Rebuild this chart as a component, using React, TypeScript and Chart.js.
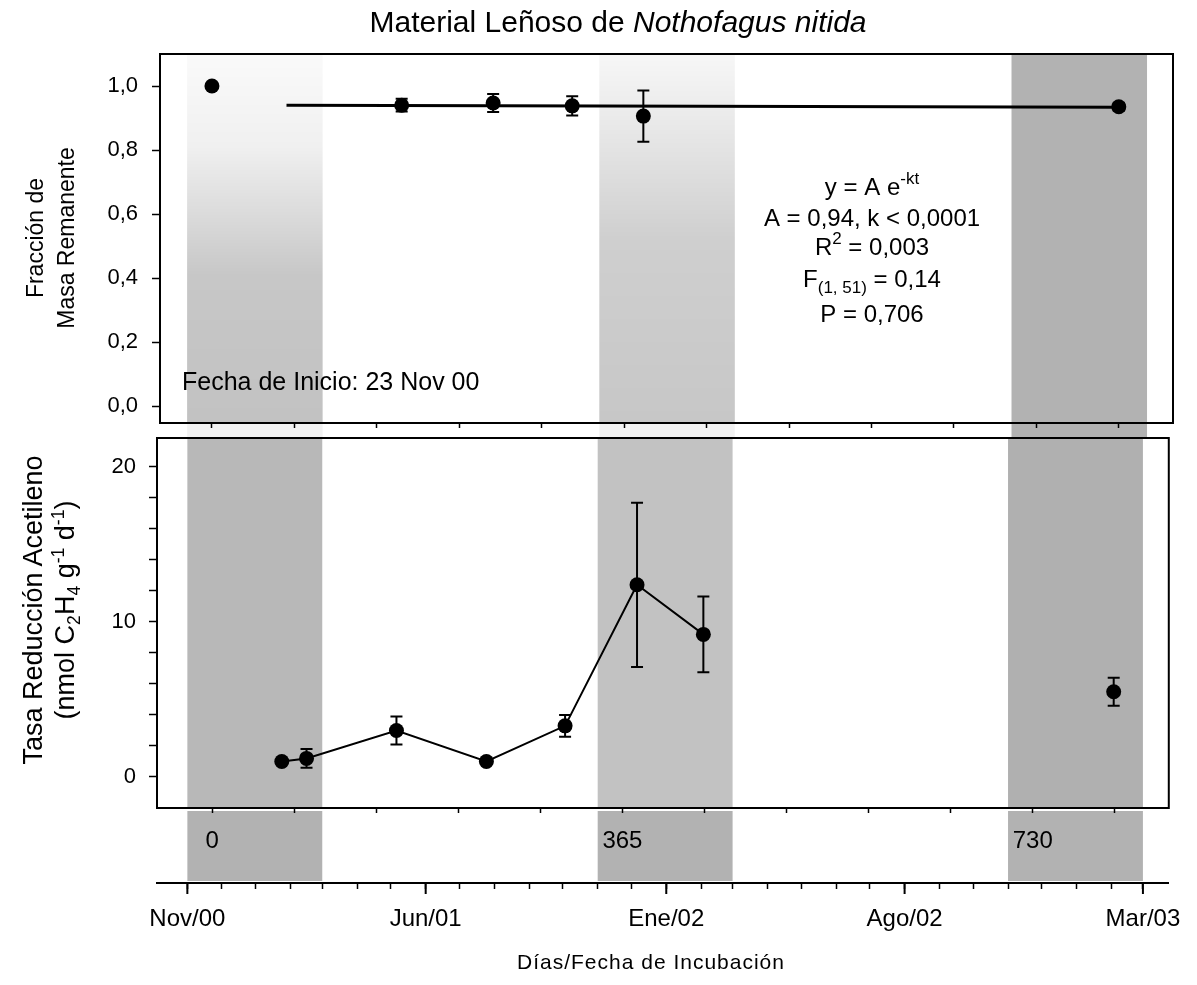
import React, { useEffect, useRef } from 'react';
import { Chart, registerables } from 'chart.js';

Chart.register(...registerables);

const FONT = '"Liberation Sans", Arial, Helvetica, sans-serif';
const DAY_MS = 86400000;
const START = Date.UTC(2000, 10, 23); // 23 Nov 2000 = day 0

// ---------------- data ----------------
const massDays = [0, 168, 249, 319, 382, 803];
const massValues = [1.0, 0.94, 0.947, 0.938, 0.906, 0.935];
const massErrors = [0, 0.02, 0.028, 0.03, 0.08, 0.012];

const fitDays = [66, 803];
const fitValues = [0.94, 0.934];

const araDays = [62, 84, 164, 244, 314, 378, 437, 802];
const araValues = [1.0, 1.2, 3.0, 1.0, 3.3, 12.4, 9.2, 5.5];
const araErrors = [0.15, 0.6, 0.9, 0.15, 0.7, 5.3, 2.45, 0.9];
const araLinkedPoints = 7;

const massTicks = [0, 0.2, 0.4, 0.6, 0.8, 1.0];
const araTicks = [0, 2, 4, 6, 8, 10, 12, 14, 16, 18, 20];
const araLabelledTicks = [0, 10, 20];

const dayTicks = [0, 73, 146, 219, 292, 365, 438, 511, 584, 657, 730, 803];
const labelledDays = [0, 365, 730];
const dayLabels = ['0', '365', '730'];

const monthLabels = ['Nov/00', 'Jun/01', 'Ene/02', 'Ago/02', 'Mar/03'];
const firstMonth = { year: 2000, month: 10 }; // Nov 2000 (0-based month)
const monthCount = 29;
const monthsPerLabel = 7;

const seasonStarts = [[2000, 11, 1], [2001, 11, 1], [2002, 11, 1]];
const seasonEnds = [[2001, 3, 1], [2002, 3, 1], [2003, 3, 1]];

// ---------------- helpers ----------------
const dayOf = (d: number[]) => (Date.UTC(d[0], d[1] - 1, d[2]) - START) / DAY_MS;
const monthTicks = Array.from({ length: monthCount }, (_, i) =>
  (Date.UTC(firstMonth.year, firstMonth.month + i, 1) - START) / DAY_MS);

const X_MIN_TOP = -46;
const X_MIN_BOT = -49;
const X_MAX = 851;

type Part = { t: string; shift?: number; scale?: number };
function drawRich(ctx: CanvasRenderingContext2D, parts: Part[], cx: number, cy: number, size: number) {
  const widths = parts.map(p => {
    ctx.font = `${Math.round(size * (p.scale ?? 1))}px ${FONT}`;
    return ctx.measureText(p.t).width;
  });
  const total = widths.reduce((a, b) => a + b, 0);
  let x = cx - total / 2;
  ctx.textAlign = 'left';
  ctx.textBaseline = 'middle';
  parts.forEach((p, i) => {
    ctx.font = `${Math.round(size * (p.scale ?? 1))}px ${FONT}`;
    ctx.fillText(p.t, x, cy + (p.shift ?? 0));
    x += widths[i];
  });
}

const errorBarsPlugin = {
  id: 'errorBars',
  afterDatasetsDraw(chart: any) {
    const { ctx } = chart;
    chart.data.datasets.forEach((ds: any, di: number) => {
      if (!ds.errors) return;
      const meta = chart.getDatasetMeta(di);
      const ys = chart.scales[meta.yAxisID];
      ctx.save();
      ctx.strokeStyle = '#000';
      ctx.lineWidth = 2;
      ds.data.forEach((p: any, i: number) => {
        const e = ds.errors[i];
        if (!e) return;
        const px = meta.data[i].x;
        const t = ys.getPixelForValue(p.y + e);
        const b = ys.getPixelForValue(p.y - e);
        ctx.beginPath();
        ctx.moveTo(px, t); ctx.lineTo(px, b);
        ctx.moveTo(px - 6, t); ctx.lineTo(px + 6, t);
        ctx.moveTo(px - 6, b); ctx.lineTo(px + 6, b);
        ctx.stroke();
      });
      ctx.restore();
    });
  },
};

const framePlugin = {
  id: 'frame',
  beforeDatasetsDraw(chart: any) {
    const { ctx, chartArea: a } = chart;
    ctx.save();
    ctx.strokeStyle = '#000';
    ctx.lineWidth = 2;
    ctx.strokeRect(a.left, a.top, a.right - a.left, a.bottom - a.top);
    ctx.restore();
  },
};

const topBandsPlugin = {
  id: 'topBands',
  beforeDraw(chart: any) {
    const { ctx, chartArea: a } = chart;
    const xs = chart.scales.x;
    ctx.save();
    seasonStarts.forEach((s, i) => {
      const x0 = xs.getPixelForValue(dayOf(s));
      const x1 = xs.getPixelForValue(dayOf(seasonEnds[i]));
      if (i < 2) {
        const g = ctx.createLinearGradient(0, a.top, 0, a.bottom);
        if (i === 0) {
          g.addColorStop(0, 'rgba(0,0,0,0.02)');
          g.addColorStop(0.25, 'rgba(0,0,0,0.06)');
          g.addColorStop(0.45, 'rgba(0,0,0,0.15)');
          g.addColorStop(0.6, 'rgba(0,0,0,0.22)');
          g.addColorStop(1, 'rgba(0,0,0,0.24)');
        } else {
          g.addColorStop(0, 'rgba(0,0,0,0.03)');
          g.addColorStop(0.2, 'rgba(0,0,0,0.09)');
          g.addColorStop(0.5, 'rgba(0,0,0,0.19)');
          g.addColorStop(1, 'rgba(0,0,0,0.22)');
        }
        ctx.fillStyle = g;
        ctx.fillRect(x0, a.top, x1 - x0, a.bottom - a.top);
        ctx.fillStyle = 'rgba(0,0,0,0.05)';
        ctx.fillRect(x0, a.bottom, x1 - x0, 15);
      } else {
        ctx.fillStyle = 'rgba(0,0,0,0.3)';
        ctx.fillRect(x0, a.top, x1 - x0, a.bottom + 15 - a.top);
      }
    });
    ctx.restore();
  },
};

const topTextPlugin = {
  id: 'topText',
  afterDraw(chart: any) {
    const { ctx } = chart;
    ctx.save();
    ctx.fillStyle = '#000';
    ctx.font = `25px ${FONT}`;
    ctx.textAlign = 'left';
    ctx.textBaseline = 'middle';
    ctx.fillText('Fecha de Inicio: 23 Nov 00', 182, 383);
    const cx = 872;
    const size = 24;
    drawRich(ctx, [{ t: 'y = A e' }, { t: '-kt', scale: 0.7, shift: -9 }], cx, 188, size);
    drawRich(ctx, [{ t: 'A = 0,94, k < 0,0001' }], cx, 219, size);
    drawRich(ctx, [{ t: 'R' }, { t: '2', scale: 0.7, shift: -9 }, { t: ' = 0,003' }], cx, 248, size);
    drawRich(ctx, [{ t: 'F' }, { t: '(1, 51)', scale: 0.7, shift: 8 }, { t: ' = 0,14' }], cx, 280, size);
    drawRich(ctx, [{ t: 'P = 0,706' }], cx, 315, size);
    ctx.restore();
  },
};

const botBandsPlugin = {
  id: 'botBands',
  beforeDraw(chart: any) {
    const { ctx, chartArea: a } = chart;
    const xs = chart.scales.x;
    const x2 = chart.scales.x2;
    ctx.save();
    const alphas = [0.28, 0.24, 0.31];
    seasonStarts.forEach((s, i) => {
      const x0 = xs.getPixelForValue(dayOf(s));
      const x1 = xs.getPixelForValue(dayOf(seasonEnds[i]));
      ctx.fillStyle = `rgba(0,0,0,${alphas[i]})`;
      ctx.fillRect(x0, a.top, x1 - x0, a.bottom - a.top);
      ctx.fillStyle = 'rgba(0,0,0,0.3)';
      ctx.fillRect(x0, a.bottom + 3, x1 - x0, x2.top - 2 - (a.bottom + 3));
    });
    ctx.restore();
  },
  afterDraw(chart: any) {
    const { ctx } = chart;
    const x2 = chart.scales.x2;
    ctx.save();
    ctx.strokeStyle = '#000';
    ctx.lineWidth = 2;
    monthTicks.forEach((v, i) => {
      if (i % monthsPerLabel !== 0) return;
      const px = x2.getPixelForValue(v);
      ctx.beginPath();
      ctx.moveTo(px, x2.top);
      ctx.lineTo(px, x2.top + 11);
      ctx.stroke();
    });
    ctx.restore();
  },
};

function topConfig(): any {
  return {
    type: 'scatter',
    data: {
      datasets: [
        {
          label: 'ajuste',
          data: fitDays.map((d, i) => ({ x: d, y: fitValues[i] })),
          showLine: true,
          borderColor: '#000',
          borderWidth: 3,
          pointRadius: 0,
        },
        {
          label: 'masa',
          data: massDays.map((d, i) => ({ x: d, y: massValues[i] })),
          errors: massErrors,
          showLine: false,
          pointRadius: 7.5,
          pointHoverRadius: 7.5,
          pointBackgroundColor: '#000',
          pointBorderColor: '#000',
          pointBorderWidth: 0,
        },
      ],
    },
    options: {
      animation: false,
      responsive: false,
      maintainAspectRatio: false,
      layout: { padding: { top: 54, right: 24, left: 0, bottom: 0 } },
      plugins: { legend: { display: false }, tooltip: { enabled: false }, title: { display: false } },
      scales: {
        x: {
          type: 'linear', min: X_MIN_TOP, max: X_MAX, position: 'bottom',
          afterBuildTicks: (s: any) => { s.ticks = dayTicks.map(v => ({ value: v })); },
          afterFit: (s: any) => { s.height = 47; },
          ticks: { display: false },
          grid: { drawOnChartArea: false, drawTicks: true, tickLength: 5, tickColor: '#000', tickWidth: 1.5 },
          border: { display: true, color: '#000', width: 2 },
        },
        y: {
          type: 'linear', min: -0.053, max: 1.1,
          afterBuildTicks: (s: any) => { s.ticks = massTicks.map(v => ({ value: v })); },
          afterFit: (s: any) => { s.width = 160; },
          ticks: {
            callback: (v: any) => Number(v).toFixed(1).replace('.', ','),
            font: { family: FONT, size: 22 }, color: '#000', padding: 14,
          },
          grid: { drawOnChartArea: false, tickLength: 8, tickColor: '#000', tickWidth: 1.5 },
          border: { display: true, color: '#000', width: 2 },
        },
      },
    },
    plugins: [topBandsPlugin, framePlugin, errorBarsPlugin, topTextPlugin],
  };
}

function botConfig(): any {
  const lastSeg = araLinkedPoints - 1;
  return {
    type: 'scatter',
    data: {
      datasets: [
        {
          label: 'ARA',
          data: araDays.map((d, i) => ({ x: d, y: araValues[i] })),
          errors: araErrors,
          showLine: true,
          borderColor: '#000',
          borderWidth: 2,
          segment: {
            borderColor: (c: any) => (c.p0DataIndex >= lastSeg ? 'rgba(0,0,0,0)' : '#000'),
          },
          pointRadius: 7.5,
          pointHoverRadius: 7.5,
          pointBackgroundColor: '#000',
          pointBorderColor: '#000',
          pointBorderWidth: 0,
        },
      ],
    },
    options: {
      animation: false,
      responsive: false,
      maintainAspectRatio: false,
      layout: { padding: { top: 48, right: 24, left: 0, bottom: 0 } },
      plugins: { legend: { display: false }, tooltip: { enabled: false }, title: { display: false } },
      scales: {
        x: {
          type: 'linear', min: X_MIN_BOT, max: X_MAX, position: 'bottom', weight: 0,
          afterBuildTicks: (s: any) => { s.ticks = dayTicks.map(v => ({ value: v })); },
          afterFit: (s: any) => { s.height = 75; },
          ticks: {
            autoSkip: false, maxRotation: 0, minRotation: 0,
            callback: (v: any) => { const k = labelledDays.indexOf(v); return k >= 0 ? dayLabels[k] : ''; },
            font: { family: FONT, size: 24 }, color: '#000', padding: 14,
          },
          grid: { drawOnChartArea: false, drawTicks: true, tickLength: 5, tickColor: '#000', tickWidth: 1.5 },
          border: { display: true, color: '#000', width: 2 },
        },
        x2: {
          type: 'linear', min: X_MIN_BOT, max: X_MAX, position: 'bottom', weight: 1,
          afterBuildTicks: (s: any) => { s.ticks = monthTicks.map(v => ({ value: v })); },
          afterFit: (s: any) => { s.height = 102; },
          ticks: {
            autoSkip: false, maxRotation: 0, minRotation: 0,
            callback: (_v: any, i: number) => (i % monthsPerLabel === 0 ? monthLabels[i / monthsPerLabel] : ''),
            font: { family: FONT, size: 24 }, color: '#000', padding: 16,
          },
          grid: { drawOnChartArea: false, drawTicks: true, tickLength: 6, tickColor: '#000', tickWidth: 1.5 },
          border: { display: true, color: '#000', width: 2 },
        },
        y: {
          type: 'linear', min: -2, max: 21.87,
          afterBuildTicks: (s: any) => { s.ticks = araTicks.map(v => ({ value: v })); },
          afterFit: (s: any) => { s.width = 157; },
          ticks: {
            autoSkip: false,
            callback: (v: any) => (araLabelledTicks.includes(v) ? String(v) : ''),
            font: { family: FONT, size: 22 }, color: '#000', padding: 13,
          },
          grid: { drawOnChartArea: false, tickLength: 8, tickColor: '#000', tickWidth: 1.5 },
          border: { display: true, color: '#000', width: 2 },
        },
      },
    },
    plugins: [botBandsPlugin, framePlugin, errorBarsPlugin],
  };
}

const supStyle: React.CSSProperties = { fontSize: '0.65em', verticalAlign: 'super', lineHeight: 0 };
const subStyle: React.CSSProperties = { fontSize: '0.65em', verticalAlign: 'sub', lineHeight: 0 };

export default function App() {
  const topRef = useRef<HTMLCanvasElement>(null);
  const botRef = useRef<HTMLCanvasElement>(null);

  useEffect(() => {
    const top = new Chart(topRef.current as HTMLCanvasElement, topConfig());
    const bot = new Chart(botRef.current as HTMLCanvasElement, botConfig());
    return () => { top.destroy(); bot.destroy(); };
  }, []);

  const rotated = (cx: number, cy: number, size: number, lh: number): React.CSSProperties => ({
    position: 'absolute', left: cx, top: cy,
    transform: 'translate(-50%, -50%) rotate(-90deg)',
    textAlign: 'center', whiteSpace: 'nowrap', fontSize: size, lineHeight: `${lh}px`,
  });

  return (
    <div style={{ position: 'absolute', left: 0, top: 0, width: 1197, height: 985, background: '#fff', fontFamily: FONT, color: '#000', overflow: 'hidden' }}>
      <div style={{ position: 'absolute', left: 0, top: 0, width: 1197, height: 470 }}>
        <canvas ref={topRef} width={1197} height={470} style={{ display: 'block', width: 1197, height: 470 }} />
      </div>
      <div style={{ position: 'absolute', left: 0, top: 390, width: 1197, height: 595 }}>
        <canvas ref={botRef} width={1197} height={595} style={{ display: 'block', width: 1197, height: 595 }} />
      </div>
      <div style={{ position: 'absolute', left: 268, width: 700, top: 4, textAlign: 'center', fontSize: 30, lineHeight: '36px', whiteSpace: 'nowrap' }}>
        Material Leñoso de <i>Nothofagus nitida</i>
      </div>
      <div style={rotated(51, 238, 23, 31)}>Fracción de<br />Masa Remanente</div>
      <div style={rotated(49, 610, 27, 32)}>
        Tasa Reducción Acetileno<br />
        (nmol C<span style={subStyle}>2</span>H<span style={subStyle}>4</span> g<span style={supStyle}>-1</span> d<span style={supStyle}>-1</span>)
      </div>
      <div style={{ position: 'absolute', left: 351, width: 600, top: 948, textAlign: 'center', fontSize: 21, lineHeight: '28px', letterSpacing: 1, whiteSpace: 'nowrap' }}>
        Días/Fecha de Incubación
      </div>
    </div>
  );
}
